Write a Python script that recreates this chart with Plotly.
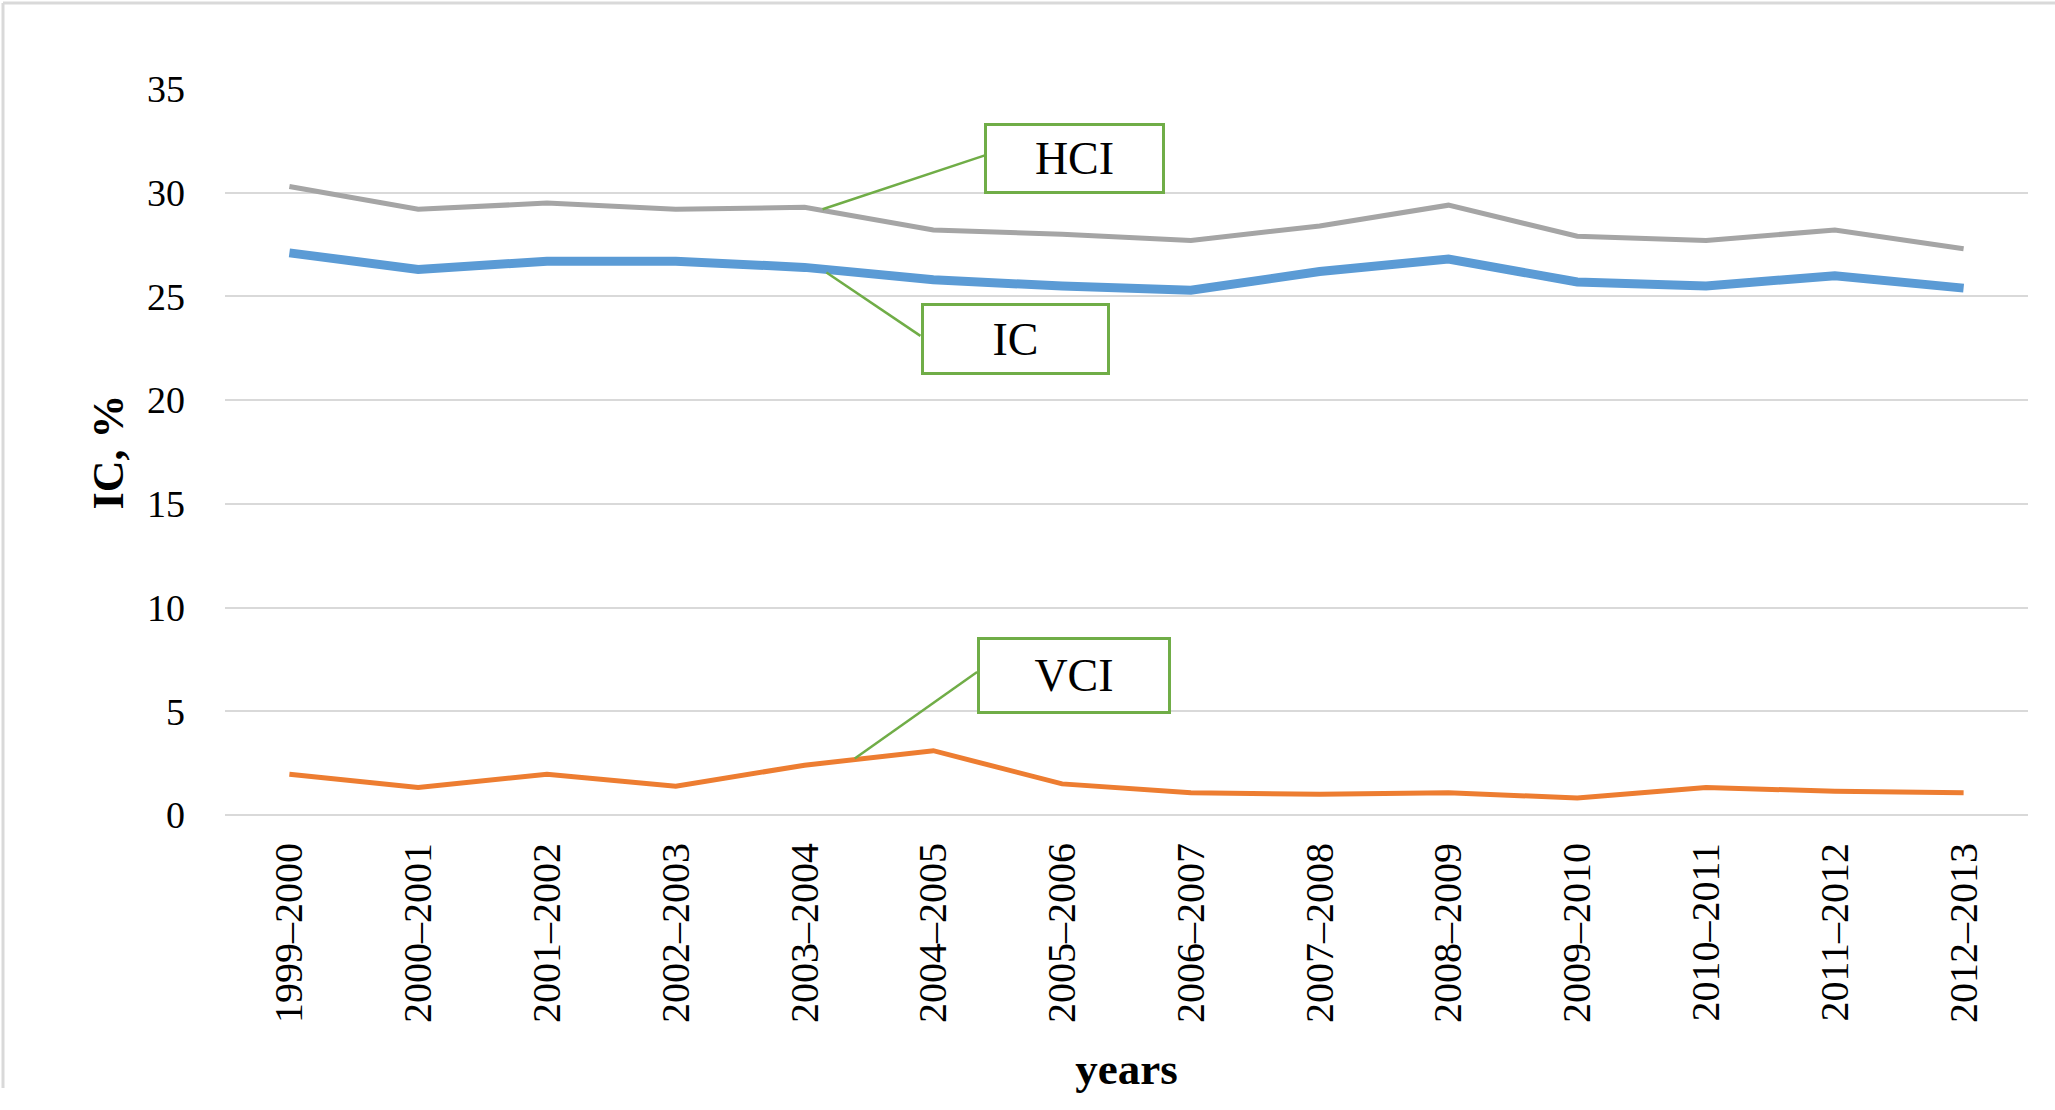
import plotly.graph_objects as go

# ---- data ----
years = ["1999–2000", "2000–2001", "2001–2002", "2002–2003", "2003–2004",
         "2004–2005", "2005–2006", "2006–2007", "2007–2008", "2008–2009",
         "2009–2010", "2010–2011", "2011–2012", "2012–2013"]
hci = [30.3, 29.2, 29.5, 29.2, 29.3, 28.2, 28.0, 27.7, 28.4, 29.4, 27.9, 27.7, 28.2, 27.3]
ic = [27.1, 26.3, 26.7, 26.7, 26.4, 25.8, 25.5, 25.3, 26.2, 26.8, 25.7, 25.5, 26.0, 25.4]
vci = [1.96, 1.33, 1.96, 1.39, 2.4, 3.1, 1.5, 1.07, 1.0, 1.07, 0.82, 1.33, 1.14, 1.07]

y_ticks = [0, 5, 10, 15, 20, 25, 30, 35]

# callout labels: text, box centre (x index, y), box size px, leader start, leader end
callouts = [
    ("HCI", 6.10, 31.65, 181, 71, (4.14, 29.2), (5.40, 31.8)),
    ("IC", 5.635, 22.95, 189, 72, (4.17, 26.15), (4.90, 23.1)),
    ("VCI", 6.095, 6.72, 194, 77, (4.39, 2.72), (5.34, 6.89)),
]

FONT = "Liberation Serif"
GREEN = "#70ad47"
W, H = 2055, 1110
ML, MR, MT, MB = 225, 27, 89, 295
PW, PH = W - ML - MR, H - MT - MB

fig = go.Figure()
fig.add_trace(go.Scatter(x=years, y=hci, mode="lines", name="HCI",
                         line=dict(color="#a5a5a5", width=5)))
fig.add_trace(go.Scatter(x=years, y=ic, mode="lines", name="IC",
                         line=dict(color="#5b9bd5", width=9)))
fig.add_trace(go.Scatter(x=years, y=vci, mode="lines", name="VCI",
                         line=dict(color="#ed7d31", width=5)))

for text, cx, cy, w, h, p0, p1 in callouts:
    fig.add_shape(type="line", xref="x", yref="y", x0=p0[0], y0=p0[1], x1=p1[0], y1=p1[1],
                  line=dict(color=GREEN, width=2.5), layer="above")
    fig.add_annotation(x=cx, y=cy, xref="x", yref="y", text=text, showarrow=False,
                       width=w - 6, height=h - 6, bordercolor=GREEN, borderwidth=3,
                       borderpad=0, bgcolor="white",
                       font=dict(family=FONT, size=46, color="black"))

# chart frame (top and left edges), positions in figure pixels converted to paper
fx_left = -(ML - 3) / PW
fy_top = 1 + (MT - 3) / PH
fy_bot = -(1088 - (MT + PH)) / PH
fx_right = 1 + MR / PW
fig.add_shape(type="line", xref="paper", yref="paper", x0=fx_left, x1=fx_right,
              y0=fy_top, y1=fy_top, line=dict(color="#d9d9d9", width=3), layer="below")
fig.add_shape(type="line", xref="paper", yref="paper", x0=fx_left, x1=fx_left,
              y0=fy_top, y1=fy_bot, line=dict(color="#d9d9d9", width=3), layer="below")

fig.update_layout(
    width=W, height=H,
    margin=dict(l=ML, r=MR, t=MT, b=MB),
    paper_bgcolor="white", plot_bgcolor="white",
    showlegend=False,
    font=dict(family=FONT, color="black"),
    xaxis=dict(type="category", range=[-0.5, 13.5], tickangle=-90,
               tickfont=dict(family=FONT, size=40, color="black"),
               showgrid=False, showline=False, ticks="", ticklabelstandoff=19,
               title=dict(text="<b>years</b>", font=dict(family=FONT, size=45), standoff=30)),
    yaxis=dict(range=[0, 35], tickvals=y_ticks, showgrid=True, gridcolor="#d9d9d9",
               gridwidth=2, zeroline=True, zerolinecolor="#d9d9d9", zerolinewidth=2,
               tickfont=dict(family=FONT, size=38, color="black"), ticks="",
               ticklabelstandoff=39,
               title=dict(text="<b>IC, %</b>", font=dict(family=FONT, size=44), standoff=9)),
)

fig.write_html("out.html", config={"displayModeBar": False},
               post_script="document.body.style.margin='0';document.body.style.overflow='hidden';")
